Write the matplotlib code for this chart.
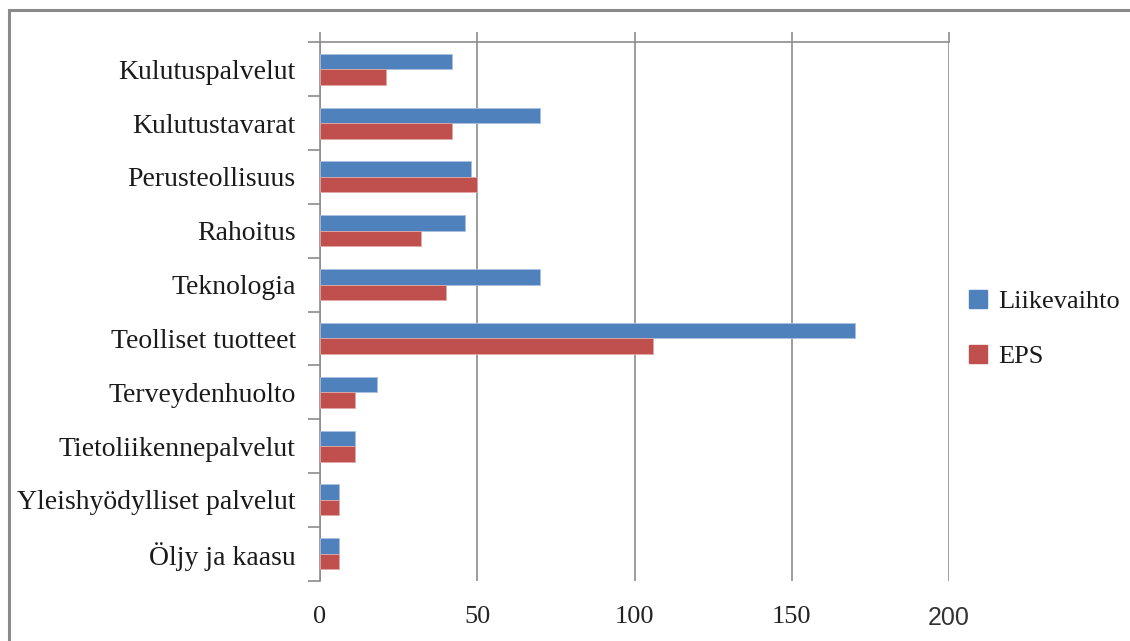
import matplotlib
matplotlib.use("Agg")
import matplotlib.pyplot as plt
from matplotlib.patches import Patch, Rectangle
import numpy as np

# Sector data
sectors = [
    "Kulutuspalvelut",
    "Kulutustavarat",
    "Perusteollisuus",
    "Rahoitus",
    "Teknologia",
    "Teolliset tuotteet",
    "Terveydenhuolto",
    "Tietoliikennepalvelut",
    "Yleishyödylliset palvelut",
    "Öljy ja kaasu",
]
liikevaihto = [42, 70, 48, 46, 70, 170, 18, 11, 6, 6]
eps = [21, 42, 50, 32, 40, 106, 11, 11, 6, 6]

series_names = ["Liikevaihto", "EPS"]
x_ticks = [0, 50, 100, 150, 200]

BLUE = "#4F81BD"
RED = "#C0504D"
GRID = "#8C8C8C"
SERIF = "Liberation Serif"

fig = plt.figure(figsize=(11.30, 6.41), dpi=100)
fig.patch.set_facecolor("white")

# outer chart frame (only left and top edges fall inside the image)
fig.add_artist(Rectangle((9 / 1130, -0.1), 1.2, 1 - 10 / 641 + 0.1,
                         transform=fig.transFigure, fill=False,
                         edgecolor="#8A8A8A", linewidth=2.2))

ax = fig.add_axes([320 / 1130, 1 - 580.7 / 641, (949 - 320) / 1130,
                   (580.7 - 42.3) / 641])

y = np.arange(len(sectors))
h = 0.288
ax.barh(y - h / 2, liikevaihto, height=h, color=BLUE,
        edgecolor="#A9C0E0", linewidth=0.6, label=series_names[0], zorder=3)
ax.barh(y + h / 2, eps, height=h, color=RED,
        edgecolor="#E0A9A8", linewidth=0.6, label=series_names[1], zorder=3)

ax.set_xlim(0, 200)
ax.set_ylim(len(sectors) - 0.5, -0.5)

# value axis: gridlines with tick marks above the top edge, labels below
ax.set_xticks(x_ticks)
ax.xaxis.grid(True, color=GRID, linewidth=1.2, zorder=0)
ax.tick_params(axis="x", which="major", top=True, bottom=False,
               labeltop=False, labelbottom=True, direction="out",
               length=7, width=1.2, color=GRID, pad=11,
               labelsize=19, labelcolor="#222222")
xlabels = ax.set_xticklabels([str(v) for v in x_ticks])
for lab in xlabels:
    lab.set_fontfamily(SERIF)
xlabels[-1].set_fontfamily("Liberation Sans")
xlabels[-1].set_color("#333333")
xlabels[-1].set_fontsize(18)

# category axis: labels centred, tick marks at category boundaries
ax.set_yticks(y)
ax.set_yticklabels(sectors, fontfamily=SERIF, fontsize=20, color="#1A1A1A")
ax.set_yticks(np.arange(len(sectors) + 1) - 0.5, minor=True)
ax.tick_params(axis="y", which="major", length=0, pad=17.5)
ax.tick_params(axis="y", which="minor", length=9, width=1.2,
               color=GRID, direction="out")

for side in ["right", "bottom"]:
    ax.spines[side].set_visible(False)
ax.spines["left"].set_color(GRID)
ax.spines["left"].set_linewidth(1.2)
ax.spines["top"].set_color(GRID)
ax.spines["top"].set_linewidth(1.2)

handles = [Patch(facecolor=BLUE, edgecolor=BLUE),
           Patch(facecolor=RED, edgecolor=RED)]
fig.legend(handles, series_names, loc="center left",
           bbox_to_anchor=(945 / 1130, 1 - 329 / 641), frameon=False,
           prop={"family": SERIF, "size": 19}, handlelength=0.7,
           handleheight=0.7, handletextpad=0.4, labelspacing=1.2,
           labelcolor="#1A1A1A")

fig.savefig("out.png", dpi=100, facecolor="white")
